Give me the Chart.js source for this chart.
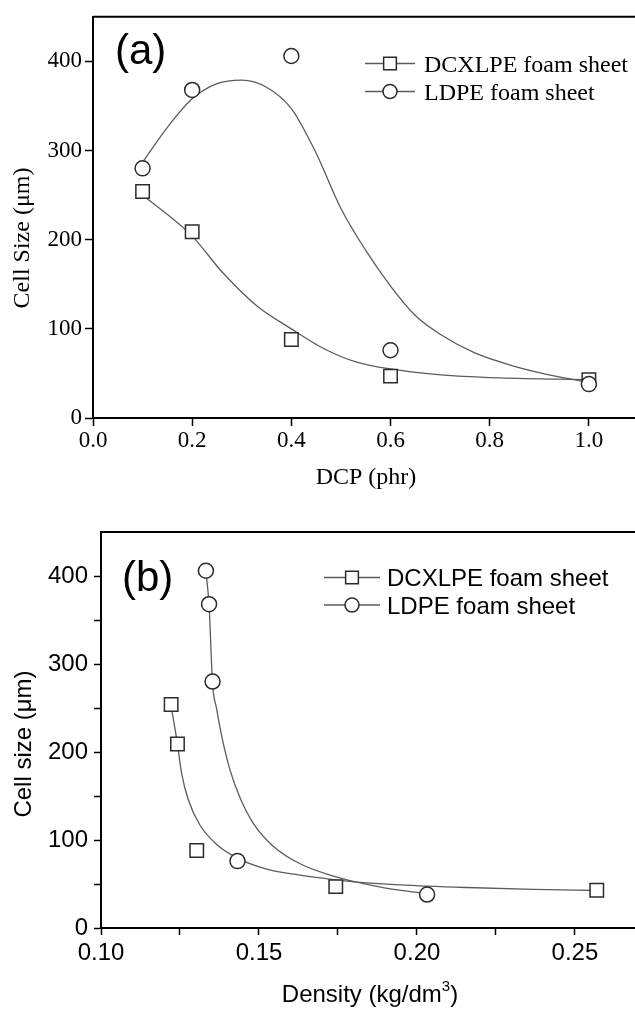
<!DOCTYPE html>
<html>
<head>
<meta charset="utf-8">
<script src="https://cdn.jsdelivr.net/npm/chart.js@4.4.0/dist/chart.umd.min.js"></script>
<style>
  html, body { margin: 0; padding: 0; background: #fff; overflow: hidden; }
  .panel { position: absolute; left: 0; }
  #wrapA { top: 0; }
  #wrapB { top: 490px; }
</style>
</head>
<body>
<div class="panel" id="wrapA"><canvas id="chartA" width="635" height="490"></canvas></div>
<div class="panel" id="wrapB"><canvas id="chartB" width="635" height="522"></canvas></div>
<script>
// measured points - DCP level (phr) and cell size (um)
const dcpLevels      = [0.1, 0.2, 0.4, 0.6, 1.0];
const dcxlpeSize     = [254, 209, 88, 47, 43];
const ldpeSize       = [280, 368, 406, 76, 38];
// density of the same sheets (kg/dm3)
const dcxlpeDensity  = [0.1222, 0.1242, 0.1303, 0.1743, 0.2569];
const ldpeDensity    = [0.1353, 0.1342, 0.1332, 0.1432, 0.2032];

// fitted curves
const dcxlpeFitDcp   = [0.1, 0.2, 0.26, 0.33, 0.4, 0.465, 0.53, 0.6, 0.69, 0.82, 1.0];
const dcxlpeFitSize  = [250, 204, 164, 126, 100, 78, 63, 55, 49, 45, 43];
const ldpeFitDcp     = [0.1, 0.15, 0.2, 0.25, 0.3, 0.35, 0.4, 0.45, 0.5, 0.55, 0.6, 0.65, 0.7, 0.77, 0.85, 0.94, 1.0];
const ldpeFitSize    = [287, 326, 358, 375, 379, 371, 347, 297, 235, 188, 148, 115, 94, 73, 58, 46, 40];

const dcxlpeFitDens  = [0.1222, 0.1242, 0.1255, 0.1276, 0.1313, 0.1366, 0.144, 0.1524, 0.163, 0.1735, 0.18, 0.1946, 0.2157, 0.2368, 0.2569];
const dcxlpeFitSizeB = [252, 209, 176, 146, 117, 95, 78, 67, 60, 55, 52.5, 49, 46, 44, 42.6];
const ldpeFitDens    = [0.1332, 0.1342, 0.1353, 0.1366, 0.1382, 0.1408, 0.144, 0.1482, 0.1545, 0.163, 0.1735, 0.1799, 0.1893, 0.2032];
const ldpeFitSizeB   = [405, 367, 278, 249, 218, 180, 148, 119, 93, 73, 59, 53, 46, 38.8];

// axis ticks
const dcpTicks       = [0, 0.2, 0.4, 0.6, 0.8, 1.0];
const sizeTicksA     = [0, 100, 200, 300, 400];
const densityTicks   = [0.1, 0.125, 0.15, 0.175, 0.2, 0.225, 0.25];
const sizeTicksB     = [0, 50, 100, 150, 200, 250, 300, 350, 400];

const seriesNames    = ['DCXLPE foam sheet', 'LDPE foam sheet'];

const SERIF = '"Liberation Serif", "Times New Roman", serif';
const SANS  = '"Liberation Sans", Arial, sans-serif';
const LINE_GREY = '#5c5c5c';
const MARK = '#2b2b2b';

function pts(xs, ys) {
    return xs.map((x, i) => ({ x: x, y: ys[i] }));
}

// top frame, panel letter, legend and axis titles
// (the original figure is cut off on the right, so no right border)
const decor = {
    id: 'decor',
    afterDraw(chart, args, o) {
        const ctx = chart.ctx;
        const a = chart.chartArea;
        ctx.save();
        ctx.strokeStyle = '#000';
        ctx.lineWidth = 2;
        ctx.beginPath();
        ctx.moveTo(a.left, a.top);
        ctx.lineTo(chart.width, a.top);
        ctx.stroke();

        ctx.fillStyle = '#000';
        ctx.textAlign = 'left';
        ctx.textBaseline = 'alphabetic';
        ctx.font = '42px ' + SANS;
        ctx.fillText(o.panel.text, o.panel.x, o.panel.y);

        // legend rows
        o.legend.rows.forEach((row, i) => {
            ctx.strokeStyle = LINE_GREY;
            ctx.lineWidth = 1.3;
            ctx.beginPath();
            ctx.moveTo(o.legend.x0, row.my);
            ctx.lineTo(o.legend.x1, row.my);
            ctx.stroke();
            ctx.strokeStyle = MARK;
            ctx.fillStyle = '#fff';
            ctx.lineWidth = 1.5;
            Chart.helpers.drawPoint(ctx, {
                pointStyle: row.style, rotation: 0,
                radius: row.style === 'rect' ? 9 : 7, borderWidth: 1.5
            }, (o.legend.x0 + o.legend.x1) / 2, row.my);
            ctx.fillStyle = '#000';
            ctx.font = o.font;
            ctx.fillText(seriesNames[i], o.legend.tx, row.ty);
        });

        // y title
        ctx.font = o.font;
        ctx.save();
        ctx.translate(o.yTitle.x, o.yTitle.y);
        ctx.rotate(-Math.PI / 2);
        ctx.textAlign = 'center';
        ctx.fillText(o.yTitle.text, 0, 0);
        ctx.restore();

        // x title, may have a superscript part
        const parts = o.xTitle.parts;
        const supFont = '15px ' + o.family;
        let total = 0;
        parts.forEach(p => {
            ctx.font = p.sup ? supFont : o.font;
            p.w = ctx.measureText(p.t).width;
            total += p.w;
        });
        let x = o.xTitle.cx - total / 2;
        parts.forEach(p => {
            ctx.font = p.sup ? supFont : o.font;
            ctx.fillText(p.t, x, p.sup ? o.xTitle.y - 11 : o.xTitle.y);
            x += p.w;
        });
        ctx.restore();
    }
};

function scatterSets(xA, yA, xB, yB, fitXA, fitYA, fitXB, fitYB) {
    const markerBase = {
        showLine: false, borderColor: MARK, backgroundColor: '#fff',
        borderWidth: 1.5, pointBorderWidth: 1.5
    };
    const fitBase = {
        showLine: true, pointRadius: 0, borderColor: LINE_GREY, borderWidth: 1.3,
        cubicInterpolationMode: 'monotone', order: 3
    };
    return [
        Object.assign({ label: seriesNames[0], data: pts(xA, yA), pointStyle: 'rect', pointRadius: 9.5, order: 1 }, markerBase),
        Object.assign({ label: seriesNames[1], data: pts(xB, yB), pointStyle: 'circle', pointRadius: 7.5, order: 0 }, markerBase),
        Object.assign({ label: 'fit1', data: pts(fitXA, fitYA) }, fitBase),
        Object.assign({ label: 'fit2', data: pts(fitXB, fitYB) }, fitBase)
    ];
}

function axis(min, max, tickList, label, family, size, tickLen, pad, fitFn) {
    return {
        type: 'linear', min: min, max: max,
        afterBuildTicks: s => { s.ticks = tickList.map(v => ({ value: v })); },
        afterFit: fitFn,
        border: { display: true, color: '#000', width: 2 },
        grid: { drawOnChartArea: false, drawTicks: true, tickLength: tickLen, tickColor: '#000', tickWidth: 1.5 },
        ticks: { callback: label, color: '#000', padding: pad, font: { family: family, size: size } }
    };
}

// (a) cell size vs DCP
// x max is where the cropped original stops at the right edge
new Chart(document.getElementById('chartA'), {
    type: 'scatter',
    data: { datasets: scatterSets(dcpLevels, dcxlpeSize, dcpLevels, ldpeSize,
                                  dcxlpeFitDcp, dcxlpeFitSize, ldpeFitDcp, ldpeFitSize) },
    options: {
        responsive: false,
        animation: false,
        layout: { autoPadding: false, padding: { top: 14, right: 0, left: 0, bottom: 0 } },
        scales: {
            x: axis(0, 1.093, dcpTicks, v => v.toFixed(1), SERIF, 23, 8, 1, s => { s.height = 72; }),
            y: axis(0, 450, sizeTicksA, v => String(v), SERIF, 23, 8, 3, s => { s.width = 93; })
        },
        plugins: {
            legend: { display: false },
            tooltip: { enabled: false },
            decor: {
                font: '24px ' + SERIF, family: SERIF,
                panel: { text: '(a)', x: 115, y: 64 },
                legend: { x0: 365, x1: 415, tx: 424, rows: [
                    { style: 'rect', my: 63.5, ty: 72 },
                    { style: 'circle', my: 91.5, ty: 99.5 }
                ] },
                yTitle: { text: 'Cell Size (\u03bcm)', x: 29, y: 238 },
                xTitle: { cx: 366, y: 484, parts: [{ t: 'DCP (phr)' }] }
            }
        }
    },
    plugins: [decor]
});

// (b) cell size vs density
new Chart(document.getElementById('chartB'), {
    type: 'scatter',
    data: { datasets: scatterSets(dcxlpeDensity, dcxlpeSize, ldpeDensity, ldpeSize,
                                  dcxlpeFitDens, dcxlpeFitSizeB, ldpeFitDens, ldpeFitSizeB) },
    options: {
        responsive: false,
        animation: false,
        layout: { autoPadding: false, padding: { top: 42, right: 0, left: 0, bottom: 0 } },
        scales: {
            x: axis(0.1, 0.269, densityTicks,
                    v => Math.abs(v * 20 - Math.round(v * 20)) < 1e-6 ? v.toFixed(2) : '',
                    SANS, 24, 7, 4, s => { s.height = 84; }),
            y: axis(0, 450, sizeTicksB, v => v % 100 === 0 ? String(v) : '',
                    SANS, 24, 7, 6, s => { s.width = 101; })
        },
        plugins: {
            legend: { display: false },
            tooltip: { enabled: false },
            decor: {
                font: '24px ' + SANS, family: SANS,
                panel: { text: '(b)', x: 122, y: 101 },
                legend: { x0: 324, x1: 380, tx: 387, rows: [
                    { style: 'rect', my: 87.5, ty: 96 },
                    { style: 'circle', my: 115, ty: 124 }
                ] },
                yTitle: { text: 'Cell size (\u03bcm)', x: 31, y: 254 },
                xTitle: { cx: 370, y: 512, parts: [{ t: 'Density (kg/dm' }, { t: '3', sup: true }, { t: ')' }] }
            }
        }
    },
    plugins: [decor]
});
</script>
</body>
</html>
